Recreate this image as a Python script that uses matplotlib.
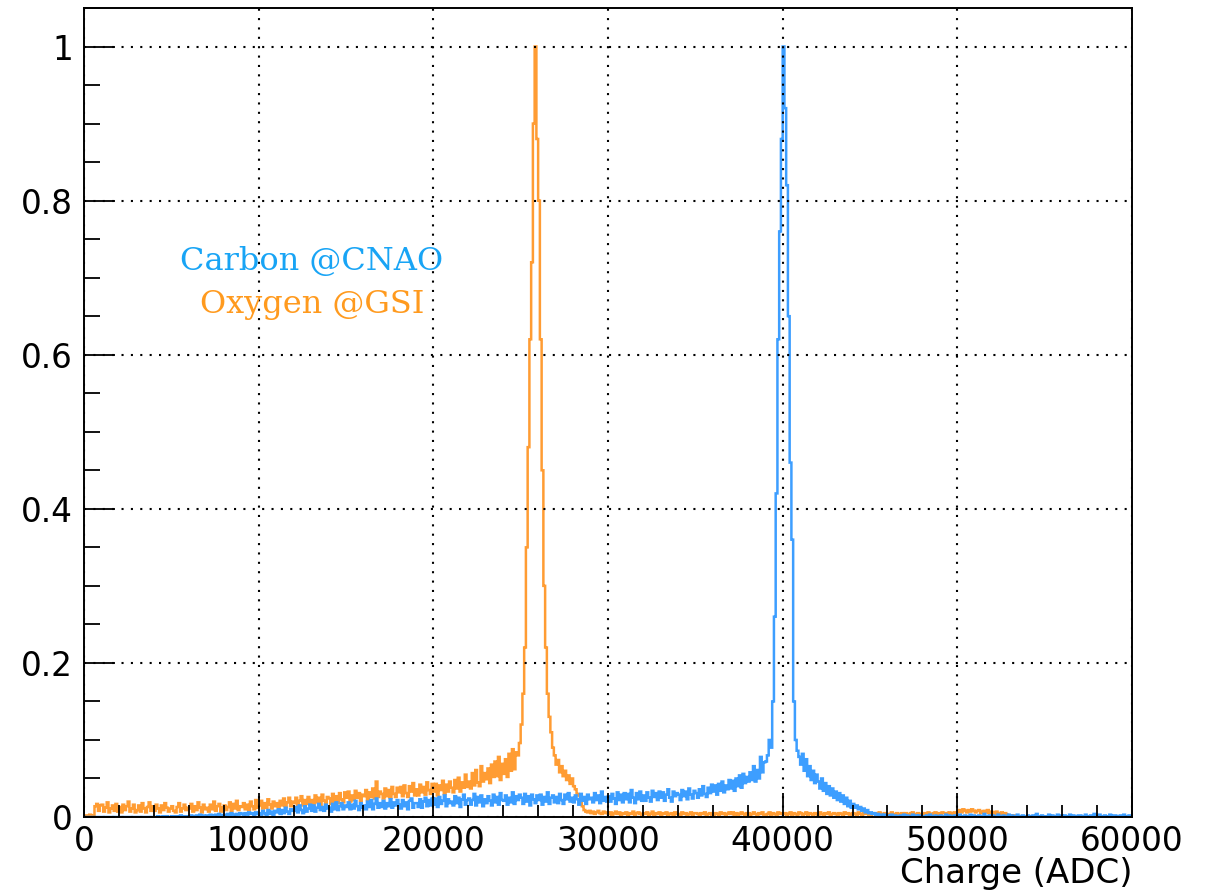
import numpy as np
import matplotlib
matplotlib.use("Agg")
import matplotlib.pyplot as plt
from matplotlib.ticker import MultipleLocator, FormatStrFormatter

# normalised charge spectra, 100 ADC bins from 0 to 60000, values in units of 1e-3
# (one row = 1000 ADC)
bin_width = 100
charge_max = 60000

oxygen_gsi = [
    1, 2, 1, 3, 2, 2, 14, 17, 8, 15,
    16, 7, 12, 19, 6, 11, 15, 8, 17, 7,
    13, 6, 16, 9, 14, 20, 7, 11, 16, 6,
    9, 15, 7, 18, 11, 6, 13, 19, 8, 14,
    8, 16, 11, 6, 15, 9, 18, 12, 7, 11,
    14, 8, 6, 13, 18, 7, 11, 16, 9, 12,
    11, 17, 7, 14, 9, 19, 12, 6, 16, 10,
    12, 7, 16, 10, 20, 8, 14, 17, 7, 12,
    15, 9, 13, 19, 8, 17, 11, 21, 9, 14,
    13, 18, 10, 16, 9, 20, 14, 10, 22, 12,
    15, 21, 11, 18, 12, 23, 16, 11, 20, 14,
    18, 12, 21, 15, 24, 13, 19, 25, 14, 20,
    18, 25, 13, 21, 27, 15, 22, 17, 26, 16,
    22, 16, 28, 19, 25, 15, 29, 21, 17, 26,
    24, 17, 30, 20, 27, 18, 31, 23, 19, 32,
    25, 33, 20, 28, 22, 34, 25, 31, 21, 29,
    27, 35, 22, 32, 26, 37, 24, 46, 26, 33,
    30, 24, 37, 27, 35, 25, 39, 30, 26, 38,
    32, 39, 27, 41, 31, 26, 40, 33, 44, 28,
    36, 28, 42, 32, 39, 29, 45, 35, 30, 43,
    33, 43, 28, 41, 35, 47, 30, 42, 33, 46,
    38, 32, 48, 37, 51, 33, 45, 38, 55, 39,
    46, 37, 57, 41, 61, 45, 40, 66, 46, 57,
    49, 63, 44, 68, 52, 72, 53, 78, 48, 69,
    56, 75, 52, 82, 60, 88, 62, 84, 80, 96,
    120, 160, 220, 350, 480, 620, 720, 900, 1000, 880,
    800, 620, 450, 300, 220, 160, 130, 110, 90, 80,
    68, 74, 58, 66, 53, 60, 48, 54, 43, 50,
    40, 36, 30, 28, 24, 14, 9, 7, 6, 8,
    5, 7, 4, 6, 8, 5, 4, 7, 5, 6,
    4, 6, 3, 5, 7, 4, 6, 3, 5, 4,
    6, 3, 5, 4, 7, 3, 5, 6, 4, 3,
    5, 4, 6, 3, 4, 7, 3, 5, 4, 6,
    3, 5, 4, 6, 3, 4, 5, 3, 6, 4,
    4, 3, 6, 4, 5, 3, 4, 6, 3, 5,
    5, 4, 3, 5, 4, 6, 3, 4, 5, 3,
    3, 5, 4, 3, 6, 4, 5, 3, 4, 6,
    4, 6, 3, 5, 3, 4, 6, 4, 3, 5,
    5, 3, 4, 6, 4, 3, 5, 4, 6, 3,
    3, 4, 6, 3, 5, 4, 3, 6, 4, 5,
    4, 5, 3, 4, 6, 3, 5, 4, 3, 6,
    5, 3, 4, 6, 3, 5, 4, 3, 5, 4,
    3, 6, 4, 3, 5, 4, 6, 3, 4, 5,
    4, 3, 5, 4, 3, 6, 4, 5, 3, 4,
    5, 4, 3, 6, 4, 3, 5, 4, 6, 3,
    3, 5, 4, 3, 5, 6, 3, 4, 5, 4,
    4, 3, 6, 4, 3, 5, 4, 3, 5, 4,
    5, 4, 3, 5, 6, 4, 3, 5, 4, 3,
    3, 5, 4, 6, 3, 4, 5, 6, 4, 5,
    4, 6, 5, 3, 5, 6, 4, 5, 6, 5,
    7, 9, 6, 10, 8, 6, 9, 7, 10, 8,
    6, 8, 9, 5, 7, 8, 6, 9, 5, 7,
    6, 4, 7, 5, 3, 6, 4, 5, 3, 2,
    2, 1, 2, 1, 0, 1, 1, 0, 1, 0,
    0, 1, 0, 0, 1, 0, 0, 1, 0, 0,
    0, 0, 1, 0, 0, 0, 1, 0, 0, 0,
    0, 0, 0, 0, 0, 0, 0, 0, 0, 0,
    0, 0, 0, 0, 0, 0, 0, 0, 0, 0,
    0, 0, 0, 0, 0, 0, 0, 0, 0, 0,
    0, 0, 0, 0, 0, 0, 0, 0, 0, 0,
]

carbon_cnao = [
    0, 0, 0, 0, 0, 0, 0, 0, 0, 0,
    0, 0, 0, 0, 0, 0, 0, 0, 0, 0,
    0, 0, 0, 0, 0, 0, 0, 0, 0, 0,
    0, 0, 0, 0, 0, 0, 0, 0, 0, 0,
    0, 0, 1, 0, 0, 1, 0, 1, 0, 0,
    1, 0, 1, 1, 0, 2, 1, 0, 1, 1,
    1, 2, 1, 0, 2, 1, 3, 1, 2, 1,
    2, 1, 3, 2, 1, 3, 2, 4, 1, 2,
    3, 2, 4, 2, 5, 3, 2, 4, 3, 5,
    4, 3, 5, 3, 6, 4, 5, 3, 6, 4,
    5, 3, 8, 5, 2, 9, 4, 7, 3, 8,
    6, 10, 4, 9, 5, 12, 7, 4, 10, 8,
    8, 13, 6, 15, 9, 5, 14, 7, 11, 16,
    8, 15, 7, 12, 17, 9, 13, 8, 16, 11,
    12, 7, 17, 10, 19, 9, 14, 18, 10, 15,
    13, 19, 10, 16, 11, 21, 14, 9, 18, 12,
    15, 10, 20, 13, 22, 10, 17, 24, 12, 18,
    13, 21, 11, 18, 14, 23, 12, 19, 15, 22,
    16, 11, 22, 14, 19, 10, 21, 24, 12, 18,
    18, 13, 23, 12, 20, 25, 14, 22, 15, 24,
    16, 24, 13, 26, 17, 21, 28, 14, 23, 18,
    20, 15, 27, 18, 25, 13, 23, 29, 16, 22,
    24, 16, 22, 30, 15, 26, 19, 28, 14, 23,
    18, 27, 21, 15, 29, 19, 26, 16, 31, 22,
    21, 28, 16, 25, 19, 32, 17, 27, 22, 29,
    25, 17, 30, 20, 27, 15, 29, 23, 18, 28,
    22, 29, 16, 26, 20, 32, 17, 25, 28, 19,
    26, 18, 30, 22, 17, 29, 23, 31, 20, 25,
    19, 28, 23, 16, 30, 21, 26, 17, 29, 23,
    25, 19, 31, 22, 28, 18, 33, 21, 26, 20,
    27, 20, 30, 24, 17, 32, 22, 29, 19, 31,
    23, 30, 19, 35, 25, 18, 31, 23, 33, 21,
    28, 21, 32, 25, 20, 34, 26, 31, 22, 33,
    25, 32, 21, 29, 36, 25, 20, 33, 27, 31,
    29, 22, 35, 27, 33, 23, 37, 29, 24, 34,
    31, 25, 36, 28, 40, 30, 26, 38, 31, 42,
    33, 41, 29, 43, 34, 46, 32, 41, 36, 48,
    37, 47, 34, 50, 40, 54, 38, 56, 44, 52,
    46, 58, 48, 66, 46, 61, 50, 78, 58, 71,
    72, 80, 100, 90, 150, 260, 420, 620, 760, 880,
    1000, 920, 820, 650, 460, 360, 150, 100, 86, 78,
    68, 82, 60, 75, 53, 66, 48, 60, 44, 55,
    46, 37, 50, 34, 44, 30, 40, 28, 37, 25,
    33, 22, 31, 20, 28, 17, 25, 14, 21, 12,
    17, 12, 15, 10, 13, 8, 11, 6, 9, 5,
    6, 4, 5, 3, 4, 2, 3, 2, 3, 1,
    2, 1, 3, 1, 2, 1, 1, 2, 1, 3,
    1, 2, 1, 1, 3, 1, 2, 1, 2, 1,
    1, 1, 2, 1, 3, 1, 1, 2, 1, 1,
    2, 1, 1, 3, 1, 2, 1, 1, 2, 1,
    1, 3, 1, 1, 2, 1, 1, 3, 1, 2,
    1, 1, 2, 1, 1, 4, 1, 1, 2, 1,
    2, 1, 1, 3, 1, 1, 2, 1, 1, 3,
    1, 2, 1, 1, 3, 1, 1, 2, 1, 1,
    2, 1, 1, 2, 1, 4, 1, 1, 2, 1,
    1, 1, 3, 1, 2, 1, 1, 3, 1, 2,
    1, 2, 1, 1, 3, 1, 2, 1, 1, 2,
    2, 1, 1, 3, 1, 1, 2, 1, 4, 1,
    1, 3, 1, 1, 2, 1, 1, 3, 1, 2,
    2, 1, 1, 2, 1, 3, 1, 1, 2, 1,
]

y_ticks = [0, 0.2, 0.4, 0.6, 0.8, 1.0]

orange = "#ff9c33"
blue = "#3d9eff"

edges = np.arange(0, charge_max + bin_width, bin_width)
oxygen = np.array(oxygen_gsi) / 1000.0
carbon = np.array(carbon_cnao) / 1000.0

W, H = 1210, 891
fig = plt.figure(figsize=(W / 100, H / 100), dpi=100)
ax = fig.add_axes([84 / W, 74 / H, 1048 / W, 809 / H])

ax.stairs(oxygen, edges, color=orange, linewidth=1.8)
ax.stairs(carbon, edges, color=blue, linewidth=1.8)

ax.set_xlim(0, charge_max)
ax.set_ylim(0, 1.05)

ax.xaxis.set_major_locator(MultipleLocator(10000))
ax.xaxis.set_minor_locator(MultipleLocator(2000))
ax.set_yticks(y_ticks)
ax.yaxis.set_minor_locator(MultipleLocator(0.05))
ax.yaxis.set_major_formatter(FormatStrFormatter("%g"))

for s in ax.spines.values():
    s.set_linewidth(1.4)

ax.tick_params(axis="x", which="major", direction="in", length=17, width=1.3,
               top=False, pad=6, labelsize=23.5)
ax.tick_params(axis="x", which="minor", direction="in", length=8.5, width=1.3, top=False)
ax.tick_params(axis="y", which="major", direction="in", length=22, width=1.3,
               right=False, pad=8, labelsize=23.5)
ax.tick_params(axis="y", which="minor", direction="in", length=11.5, width=1.3, right=False)

ax.grid(True, which="major", color="black", linestyle=(0, (1, 3.5)), linewidth=1.5)

fig.text(1133 / W, 1 - 873 / H, "Charge (ADC)", ha="right", va="center", fontsize=24.5)

fig.text(312 / W, 1 - 262 / H, "Carbon @CNAO", fontsize=23, color="#18a4f5",
         family="DejaVu Serif", ha="center", va="center")
fig.text(312 / W, 1 - 305 / H, "Oxygen @GSI", fontsize=23, color="#ff9a1e",
         family="DejaVu Serif", ha="center", va="center")

fig.savefig("out.png", dpi=100)
